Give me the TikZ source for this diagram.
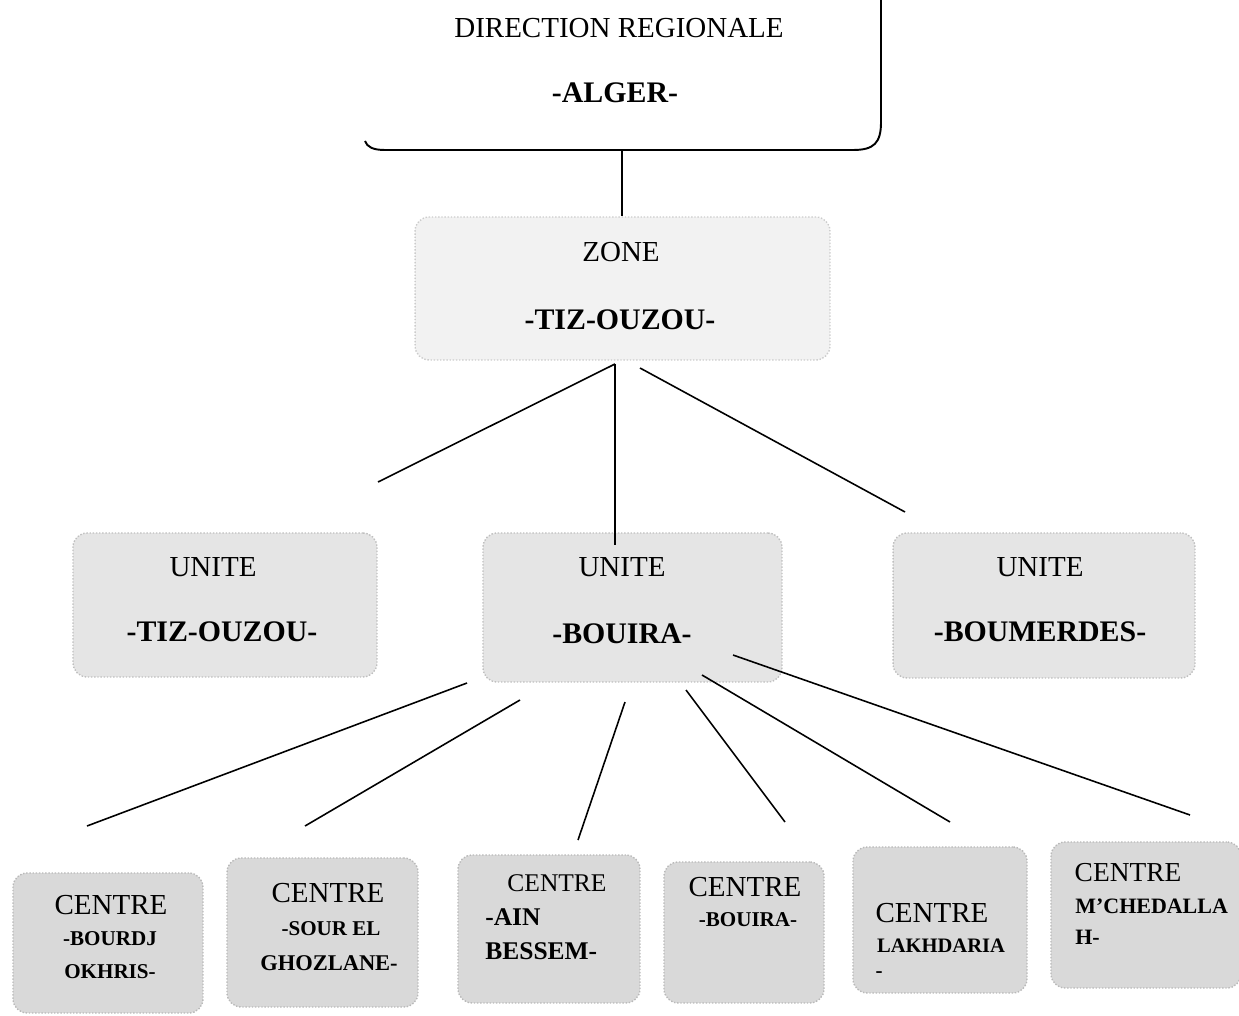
\documentclass[tikz,border=0pt]{standalone}
\usepackage{fontspec}
\setmainfont{Liberation Serif}
\begin{document}
\begin{tikzpicture}[x=0.02cm,y=-0.02cm,
  cadre/.style={line width=1.1pt},
  trait/.style={line width=0.9pt},
  zonebox/.style={rounded corners=8pt,fill=gray!10,draw=gray!40,densely dotted,line width=0.8pt,inner sep=0pt},
  unitbox/.style={rounded corners=8pt,fill=gray!20,draw=gray!50,densely dotted,line width=0.8pt,inner sep=0pt},
  centrebox/.style={rounded corners=8pt,fill=gray!30,draw=gray!55,densely dotted,line width=0.8pt,inner sep=0pt},
  titre/.style={inner sep=0pt,font=\fontsize{16.5}{18}\selectfont},
  nom/.style={inner sep=0pt,font=\fontsize{17}{19}\selectfont\bfseries},
  petit/.style={inner sep=0pt,font=\fontsize{12}{14}\selectfont\bfseries}]
  \useasboundingbox (0,0) rectangle (1239,1016);

  % direction
  \draw[cadre] (881,0) -- (881,122) .. controls (881,143) and (874,150) .. (853,150)
    -- (385,150) .. controls (373,150) and (367,147) .. (365,141);
  \node[titre] (tdir) at (619,28) {DIRECTION REGIONALE};
  \node[nom] (talger) at (615,93) {-ALGER-};

  % zone
  \node[zonebox,minimum width=8.3cm,minimum height=2.86cm] (zone) at (622.5,288.5) {};
  \node[titre] (tzone) at (621,252) {ZONE};
  \node[nom] (tzone2) at (620,320) {-TIZ-OUZOU-};

  % unites
  \node[unitbox,minimum width=6.08cm,minimum height=2.88cm] (utizi) at (225,605) {};
  \node[unitbox,minimum width=5.98cm,minimum height=2.98cm] (ubouira) at (632.5,607.5) {};
  \node[unitbox,minimum width=6.04cm,minimum height=2.9cm] (uboum) at (1044,605.5) {};
  \node[titre] (tu1) at (213,567) {UNITE};
  \node[nom] (tu1b) at (222,632) {-TIZ-OUZOU-};
  \node[titre] (tu2) at (622,567) {UNITE};
  \node[nom] (tu2b) at (622,634) {-BOUIRA-};
  \node[titre] (tu3) at (1040,567) {UNITE};
  \node[nom] (tu3b) at (1040,632) {-BOUMERDES-};

  % centres
  \node[centrebox,minimum width=3.8cm,minimum height=2.8cm] (c1) at (108,943) {};
  \node[centrebox,minimum width=3.82cm,minimum height=2.98cm] (c2) at (322.5,932.5) {};
  \node[centrebox,minimum width=3.64cm,minimum height=2.96cm] (c3) at (549,929) {};
  \node[centrebox,minimum width=3.2cm,minimum height=2.82cm] (c4) at (744,932.5) {};
  \node[centrebox,minimum width=3.48cm,minimum height=2.92cm] (c5) at (940,920) {};
  \node[centrebox,minimum width=3.8cm,minimum height=2.92cm] (c6) at (1146,915) {};

  \node[titre] (tc1) at (111,905) {CENTRE};
  \node[petit] (tc1b) at (110,939) {-BOURDJ};
  \node[petit] (tc1c) at (110,972) {OKHRIS-};
  \node[titre] (tc2) at (328,893) {CENTRE};
  \node[petit] (tc2b) at (331,929) {-SOUR EL};
  \node[petit,font=\fontsize{12.8}{14}\selectfont\bfseries] (tc2c) at (329,963) {GHOZLANE-};
  \node[titre,font=\fontsize{14.5}{16}\selectfont] (tc3) at (557,883) {CENTRE};
  \node[petit,font=\fontsize{14.5}{16}\selectfont\bfseries,anchor=west] (tc3b) at (485,917) {-AIN};
  \node[petit,font=\fontsize{14.5}{16}\selectfont\bfseries,anchor=west] (tc3c) at (485,951) {BESSEM-};
  \node[titre] (tc4) at (745,887) {CENTRE};
  \node[petit] (tc4b) at (748,920) {-BOUIRA-};
  \node[titre] (tc5) at (932,913) {CENTRE};
  \node[petit,font=\fontsize{11.7}{14}\selectfont\bfseries] (tc5b) at (941,946) {LAKHDARIA};
  \node[petit] (tc5c) at (879,975) {-};
  \node[titre,font=\fontsize{15.6}{17}\selectfont] (tc6) at (1128,873) {CENTRE};
  \node[petit,font=\fontsize{12.5}{14}\selectfont\bfseries,anchor=west] (tc6b) at (1075,906) {M'CHEDALLA};
  \node[petit,font=\fontsize{12.5}{14}\selectfont\bfseries,anchor=west] (tc6c) at (1075,937) {H-};

  % liaisons
  \coordinate (dbas) at (622,150);
  \coordinate (zhaut) at (622,216);
  \draw[trait] (dbas) -- (zhaut);
  \foreach \xa/\ya/\xb/\yb [count=\i] in {615/364/378/482, 615/364/615/545, 640/368/905/512} {
    \coordinate (z\i) at (\xa,\ya);
    \coordinate (u\i) at (\xb,\yb);
    \draw[trait] (z\i) -- (u\i);
  }
  \foreach \xa/\ya/\xb/\yb [count=\i] in {467/683/87/826, 520/700/305/826, 625/702/578/840,
      686/690/785/822, 702/675/950/822, 733/655/1190/815} {
    \coordinate (b\i) at (\xa,\ya);
    \coordinate (k\i) at (\xb,\yb);
    \draw[trait] (b\i) -- (k\i);
  }
\end{tikzpicture}
\end{document}
